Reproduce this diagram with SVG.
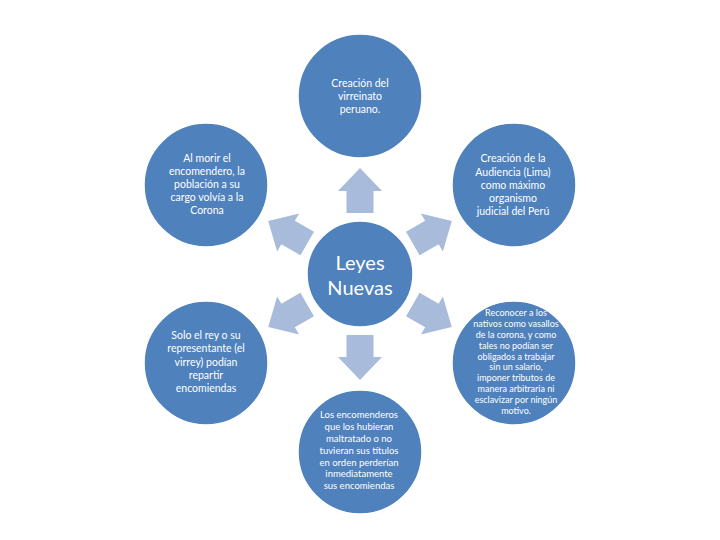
<svg xmlns="http://www.w3.org/2000/svg" width="720" height="540" viewBox="0 0 720 540">
<style>
.c{fill:#4F81BD;stroke:#FFFFFF;stroke-width:1.5}
.a{fill:#A9BBDA}
text{font-family:Lato,"Open Sans","Liberation Sans",sans-serif;fill:#FFFFFF;text-anchor:middle}
.t{font-size:10.5px}
.s{font-size:9px}
.m{font-size:9.5px}
.h{font-size:20px}
</style>
<defs>
<path id="arr" d="M-13.5,-61 L-13.5,-83 L-22,-83 L0,-106 L22,-83 L13.5,-83 L13.5,-61 Z"/>
</defs>
<rect width="720" height="540" fill="#FFFFFF"/>
<g id="connectors" class="a" transform="translate(360,274)">
<use href="#arr"/>
<use href="#arr" transform="rotate(60)"/>
<use href="#arr" transform="rotate(120)"/>
<use href="#arr" transform="rotate(180)"/>
<use href="#arr" transform="rotate(240)"/>
<use href="#arr" transform="rotate(300)"/>
</g>
<g id="center">
<circle class="c" cx="360" cy="274" r="53"/>
<text class="h" x="360" y="270">Leyes</text>
<text class="h" x="360" y="295">Nuevas</text>
</g>
<g id="top">
<circle class="c" cx="360" cy="96" r="62"/>
<text class="t" x="360" y="87">Creación del</text>
<text class="t" x="360" y="100">virreinato</text>
<text class="t" x="360" y="113">peruano.</text>
</g>
<g id="upper-left">
<circle class="c" cx="206" cy="185" r="62"/>
<text class="t" x="207" y="162">Al morir el</text>
<text class="t" x="207" y="175">encomendero, la</text>
<text class="t" x="207" y="188">población a su</text>
<text class="t" x="207" y="201">cargo volvía a la</text>
<text class="t" x="207" y="214">Corona</text>
</g>
<g id="upper-right">
<circle class="c" cx="514" cy="185" r="62"/>
<text class="t" x="513" y="162">Creación de la</text>
<text class="t" x="513" y="176">Audiencia (Lima)</text>
<text class="t" x="513" y="189">como máximo</text>
<text class="t" x="513" y="202">organismo</text>
<text class="t" x="513" y="215">judicial del Perú</text>
</g>
<g id="lower-left">
<circle class="c" cx="206" cy="363" r="62"/>
<text class="t" x="206" y="339">Solo el rey o su</text>
<text class="t" x="206" y="352">representante (el</text>
<text class="t" x="206" y="366">virrey) podían</text>
<text class="t" x="206" y="379">repartir</text>
<text class="t" x="206" y="392">encomiendas</text>
</g>
<g id="lower-right">
<circle class="c" cx="514" cy="363" r="62"/>
<text class="s" x="516" y="316">Reconocer a los</text>
<text class="s" x="516" y="327">nativos como vasallos</text>
<text class="s" x="516" y="338">de la corona, y como</text>
<text class="s" x="516" y="349">tales no podían ser</text>
<text class="s" x="516" y="360">obligados a trabajar</text>
<text class="s" x="516" y="370">sin un salario,</text>
<text class="s" x="516" y="381">imponer tributos de</text>
<text class="s" x="516" y="392">manera arbitraria ni</text>
<text class="s" x="516" y="403">esclavizar por ningún</text>
<text class="s" x="516" y="414">motivo.</text>
</g>
<g id="bottom">
<circle class="c" cx="360" cy="452" r="62"/>
<text class="m" x="359" y="418">Los encomenderos</text>
<text class="m" x="359" y="430">que los hubieran</text>
<text class="m" x="359" y="442">maltratado o no</text>
<text class="m" x="359" y="454">tuvieran sus títulos</text>
<text class="m" x="359" y="466">en orden perderían</text>
<text class="m" x="359" y="477">inmediatamente</text>
<text class="m" x="359" y="489">sus encomiendas</text>
</g>
</svg>
